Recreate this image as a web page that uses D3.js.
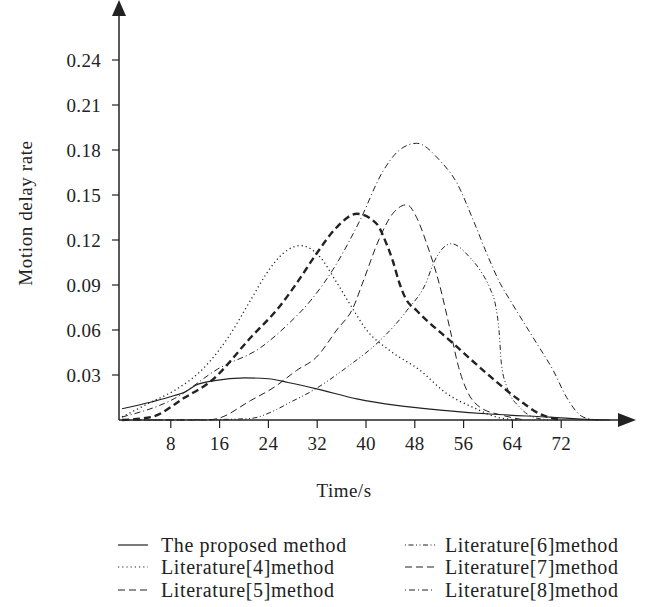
<!DOCTYPE html>
<html>
<head>
<meta charset="utf-8">
<script src="https://cdn.jsdelivr.net/npm/d3@7"></script>
<style>
  body { margin: 0; background: #fff; }
  svg { display: block; }
  text { font-family: "Liberation Serif", "Times New Roman", serif; fill: #222; }
</style>
</head>
<body>
<svg id="chart" width="653" height="607"></svg>
<script>
// tick labels
const xTicks = [8, 16, 24, 32, 40, 48, 56, 64, 72];
const yTicks = [0.03, 0.06, 0.09, 0.12, 0.15, 0.18, 0.21, 0.24];

// series (time in s, motion delay rate)
const proposedT = [0, 4.8, 8.6, 10.5, 12, 15.2, 20.1, 24, 27.2, 31.9, 38.5, 45, 53.2, 60.3, 70.2, 77, 80];
const proposedV = [0.0075, 0.012, 0.0163, 0.019, 0.023, 0.0263, 0.0281, 0.0275, 0.025, 0.0208, 0.0141, 0.0097, 0.0063, 0.004, 0.0019, 0.0003, 0];

const lit4T = [0, 4.8, 8.6, 13, 17.4, 21.1, 23.7, 26.4, 29.2, 32.5, 35, 37.7, 40.1, 43.9, 48.9, 53.2, 57.5, 61.4, 65];
const lit4V = [0.002, 0.012, 0.0197, 0.033, 0.055, 0.08, 0.0977, 0.111, 0.1163, 0.1085, 0.093, 0.075, 0.06, 0.0463, 0.033, 0.0177, 0.0085, 0.002, 0];

const lit5T = [0, 4.8, 10.3, 14.6, 21.1, 25.9, 28.6, 31.9, 35.2, 38.5, 41.7, 43.4, 44.4, 45.5, 46.5, 48.3, 54.3, 59.8, 65.2, 68.5, 72];
const lit5V = [0, 0.002, 0.015, 0.026, 0.055, 0.076, 0.091, 0.111, 0.1285, 0.1375, 0.131, 0.117, 0.106, 0.091, 0.081, 0.073, 0.051, 0.031, 0.013, 0.004, 0];

const lit6T = [0, 15, 21, 25, 27.2, 31.3, 36.8, 42.3, 46.7, 50, 51, 54, 57, 59, 60.3, 61.3, 61.8, 62.2, 63.1, 65.2, 67.4, 70];
const lit6V = [0, 0.0003, 0.001, 0.0063, 0.011, 0.0197, 0.035, 0.053, 0.073, 0.093, 0.104, 0.1175, 0.1085, 0.098, 0.088, 0.075, 0.06, 0.0375, 0.022, 0.0085, 0.002, 0];

const lit7T = [0, 14, 15.7, 21.1, 25, 28.6, 31.9, 35.2, 37.9, 39.5, 42.3, 44.4, 46.7, 48.3, 50, 52, 53.8, 55.2, 56.5, 58.7, 62.5, 66];
const lit7V = [0, 0, 0.001, 0.013, 0.022, 0.033, 0.042, 0.06, 0.075, 0.092, 0.122, 0.1377, 0.1435, 0.135, 0.117, 0.091, 0.06, 0.035, 0.02, 0.0085, 0.003, 0];

const lit8T = [0, 8.6, 15.7, 22.8, 27, 31, 35, 39, 42.8, 45.5, 48.3, 52.1, 54.9, 57.6, 59.8, 62, 63.6, 68, 70.7, 72.9, 75.6, 78];
const lit8V = [0.002, 0.0143, 0.034, 0.0485, 0.063, 0.08, 0.103, 0.133, 0.166, 0.18, 0.1845, 0.173, 0.158, 0.133, 0.111, 0.091, 0.08, 0.051, 0.033, 0.015, 0.002, 0];

const series = [
  { name: "The proposed method", t: proposedT, v: proposedV, dash: null, width: 1.2, legendDash: null },
  { name: "Literature[4]method", t: lit4T, v: lit4V, dash: "1.2,3", width: 1.3, legendDash: "1.2,3" },
  { name: "Literature[5]method", t: lit5T, v: lit5V, dash: "7,4", width: 2.4, legendDash: "7,4" },
  { name: "Literature[6]method", t: lit6T, v: lit6V, dash: "5,2.5,1,2.5,1,2.5", width: 1, legendDash: "1,2.5,5,2.5,1,2.5" },
  { name: "Literature[7]method", t: lit7T, v: lit7V, dash: "7,4", width: 1, legendDash: "7,4" },
  { name: "Literature[8]method", t: lit8T, v: lit8V, dash: "6,3,1,3", width: 1, legendDash: "1,3,6,3" },
];

const svg = d3.select("#chart");
const ink = "#222";

const x = d3.scaleLinear().domain([0, 84]).range([122, 634.4]);
const y = d3.scaleLinear().domain([0, 0.28]).range([420, 0]);
const axisX = 119;
const axisY = 420;

// axes lines
svg.append("line")
  .attr("x1", axisX).attr("x2", 620).attr("y1", axisY).attr("y2", axisY)
  .attr("stroke", ink).attr("stroke-width", 1.5);
svg.append("line")
  .attr("x1", axisX).attr("x2", axisX).attr("y1", axisY).attr("y2", 14)
  .attr("stroke", ink).attr("stroke-width", 1.5);

// arrow heads
svg.append("path")
  .attr("d", `M${axisX},0 L${axisX - 7},16 L${axisX + 7},16 Z`)
  .attr("fill", ink);
svg.append("path")
  .attr("d", `M636,${axisY} L618,${axisY - 7} L618,${axisY + 7} Z`)
  .attr("fill", ink);

// x ticks
const xt = svg.append("g");
xt.selectAll("line").data(xTicks).enter().append("line")
  .attr("x1", d => x(d)).attr("x2", d => x(d))
  .attr("y1", axisY).attr("y2", axisY + 8)
  .attr("stroke", ink).attr("stroke-width", 1.2);
xt.selectAll("text").data(xTicks).enter().append("text")
  .attr("x", d => x(d)).attr("y", 450)
  .attr("text-anchor", "middle")
  .style("font-size", "19px")
  .style("letter-spacing", "0.3px")
  .text(d => d);

// y ticks
const yt = svg.append("g");
yt.selectAll("line").data(yTicks).enter().append("line")
  .attr("x1", axisX - 7).attr("x2", axisX)
  .attr("y1", d => y(d)).attr("y2", d => y(d))
  .attr("stroke", ink).attr("stroke-width", 1.2);
yt.selectAll("text").data(yTicks).enter().append("text")
  .attr("x", 101).attr("y", d => y(d))
  .attr("text-anchor", "end")
  .attr("dominant-baseline", "central")
  .style("font-size", "19px")
  .style("letter-spacing", "0.3px")
  .text(d => d3.format(".2f")(d));

// axis titles
svg.append("text")
  .attr("transform", "translate(25,213) rotate(-90)")
  .attr("text-anchor", "middle")
  .attr("dominant-baseline", "central")
  .style("font-size", "19px")
  .style("letter-spacing", "0.6px")
  .text("Motion delay rate");
svg.append("text")
  .attr("x", 344).attr("y", 497)
  .attr("text-anchor", "middle")
  .style("font-size", "19px")
  .style("letter-spacing", "0.5px")
  .text("Time/s");

// curves
const line = d3.line()
  .x(d => x(d[0]))
  .y(d => y(d[1]))
  .curve(d3.curveMonotoneX);

svg.append("g").selectAll("path").data(series).enter().append("path")
  .attr("d", s => line(s.t.map((t, i) => [t, s.v[i]])))
  .attr("fill", "none")
  .attr("stroke", ink)
  .attr("stroke-width", s => s.width)
  .attr("stroke-dasharray", s => s.dash);

// legend
const legendCols = [{ lx: 118, tx: 161 }, { lx: 405, tx: 445 }];
const legendRows = [545, 567, 590];
const lg = svg.append("g");
series.forEach((s, i) => {
  const col = legendCols[Math.floor(i / 3)];
  const ry = legendRows[i % 3];
  lg.append("line")
    .attr("x1", col.lx).attr("x2", col.lx + 30)
    .attr("y1", ry).attr("y2", ry)
    .attr("stroke", ink).attr("stroke-width", 1.2)
    .attr("stroke-dasharray", s.legendDash);
  lg.append("text")
    .attr("x", col.tx).attr("y", ry)
    .attr("dominant-baseline", "central")
    .style("font-size", "20px")
    .style("letter-spacing", "0.6px")
    .text(s.name);
});
</script>
</body>
</html>
